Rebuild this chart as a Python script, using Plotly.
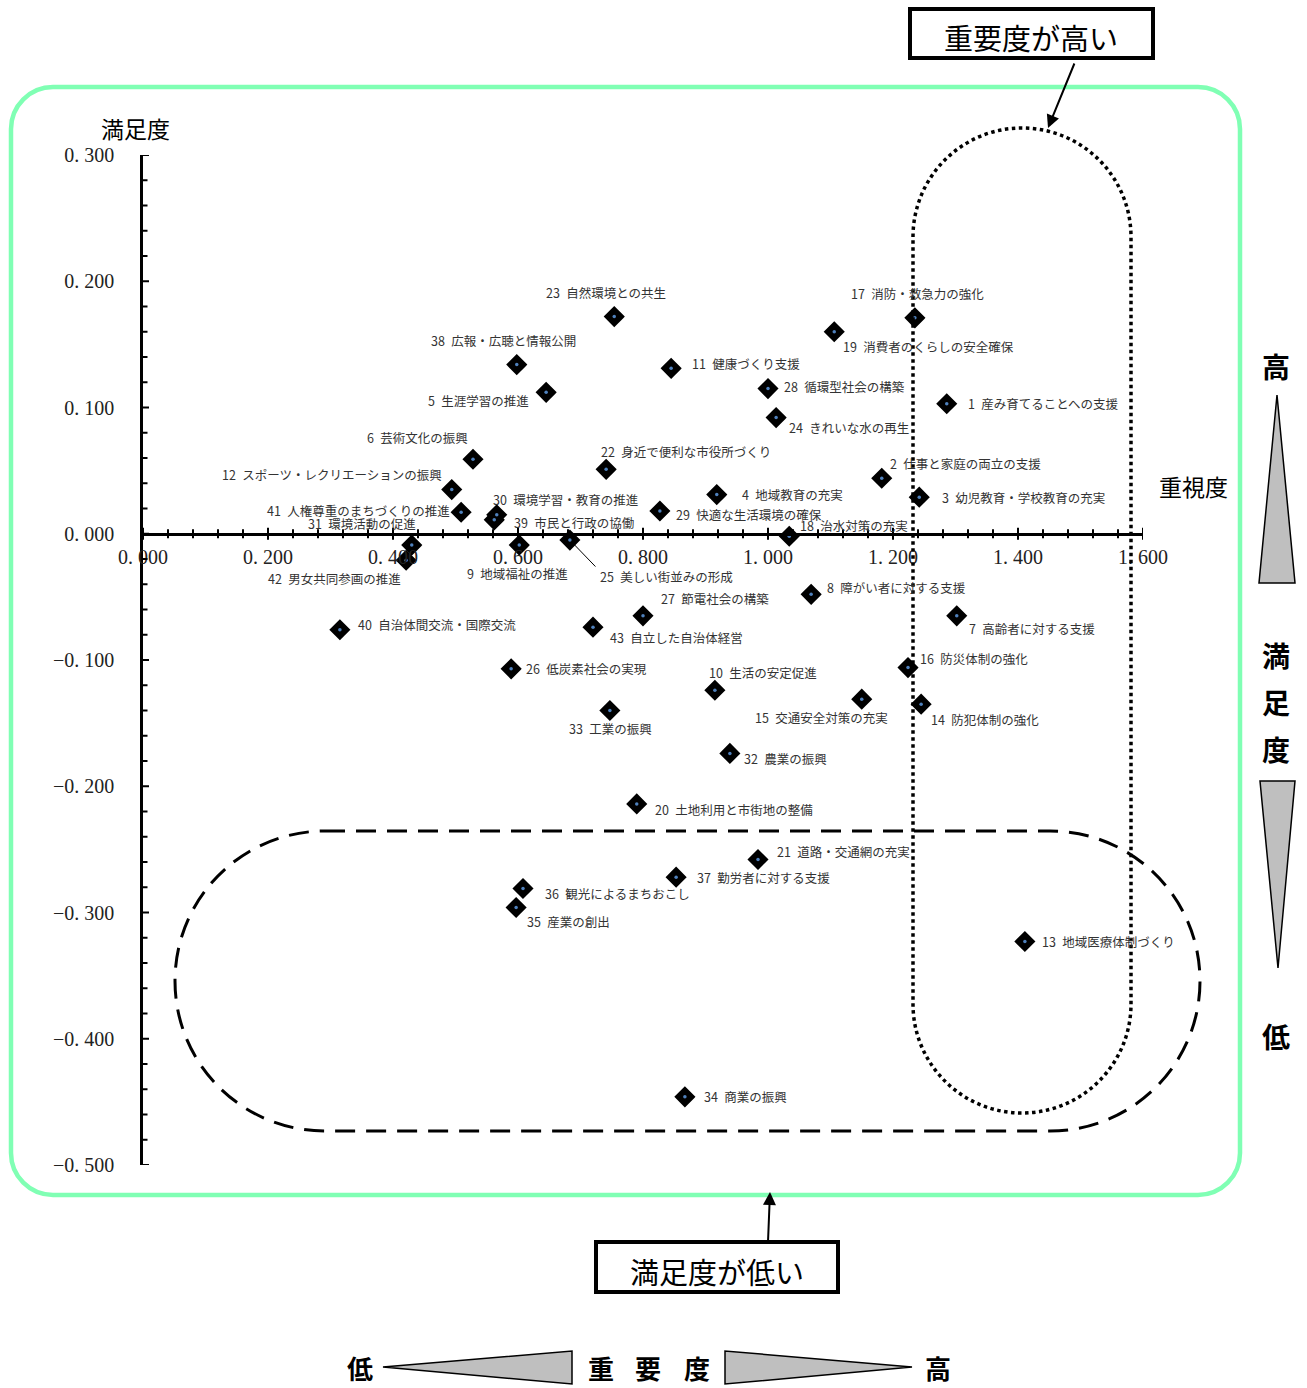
import plotly.graph_objects as go

# ---------------- data ----------------
item_ids = list(range(1, 44))
item_names = [
    "産み育てることへの支援", "仕事と家庭の両立の支援", "幼児教育・学校教育の充実", "地域教育の充実",
    "生涯学習の推進", "芸術文化の振興", "高齢者に対する支援", "障がい者に対する支援", "地域福祉の推進",
    "生活の安定促進", "健康づくり支援", "スポーツ・レクリエーションの振興", "地域医療体制づくり",
    "防犯体制の強化", "交通安全対策の充実", "防災体制の強化", "消防・救急力の強化", "治水対策の充実",
    "消費者のくらしの安全確保", "土地利用と市街地の整備", "道路・交通網の充実", "身近で便利な市役所づくり",
    "自然環境との共生", "きれいな水の再生", "美しい街並みの形成", "低炭素社会の実現", "節電社会の構築",
    "循環型社会の構築", "快適な生活環境の確保", "環境学習・教育の推進", "環境活動の促進", "農業の振興",
    "工業の振興", "商業の振興", "産業の創出", "観光によるまちおこし", "勤労者に対する支援",
    "広報・広聴と情報公開", "市民と行政の協働", "自治体間交流・国際交流", "人権尊重のまちづくりの推進",
    "男女共同参画の推進", "自立した自治体経営",
]
importance = [
    1.286, 1.182, 1.242, 0.918, 0.645, 0.528, 1.302, 1.069, 0.602, 0.915,
    0.845, 0.494, 1.411, 1.245, 1.150, 1.224, 1.235, 1.034, 1.106, 0.790,
    0.984, 0.741, 0.754, 1.013, 0.683, 0.589, 0.800, 1.000, 0.827, 0.566,
    0.430, 0.939, 0.747, 0.867, 0.597, 0.608, 0.853, 0.598, 0.562, 0.315,
    0.509, 0.421, 0.720,
]
satisfaction = [
    0.103, 0.044, 0.029, 0.031, 0.112, 0.059, -0.065, -0.048, -0.009, -0.124,
    0.131, 0.035, -0.323, -0.135, -0.131, -0.106, 0.171, -0.002, 0.160, -0.214,
    -0.258, 0.051, 0.172, 0.092, -0.005, -0.107, -0.065, 0.115, 0.018, 0.015,
    -0.009, -0.174, -0.140, -0.446, -0.296, -0.281, -0.272, 0.134, 0.011, -0.076,
    0.017, -0.021, -0.074,
]
x_tick_vals = [0.0, 0.2, 0.4, 0.6, 0.8, 1.0, 1.2, 1.4, 1.6]
x_tick_text = ["0. 000", "0. 200", "0. 400", "0. 600", "0. 800", "1. 000", "1. 200", "1. 400", "1. 600"]
y_tick_vals = [0.3, 0.2, 0.1, 0.0, -0.1, -0.2, -0.3, -0.4, -0.5]
y_tick_text = ["0. 300", "0. 200", "0. 100", "0. 000", "−0. 100", "−0. 200", "−0. 300", "−0. 400", "−0. 500"]

# label placement (anchor, dx px, dy px downward) -- layout only
label_place = {
    1: ("left", 19, 0), 2: ("left", 6, -15), 3: ("left", 21, 0), 4: ("left", 23, 0),
    5: ("right", -15, 8), 6: ("right", -3, -22), 7: ("left", 10, 13), 8: ("left", 14, -7),
    9: ("center", -2, 28), 10: ("left", -8, -18), 11: ("left", 19, -5), 12: ("right", -8, -15),
    13: ("left", 15, 0), 14: ("left", 8, 15), 15: ("right", 28, 18), 16: ("left", 10, -9),
    17: ("center", 3, -24), 18: ("left", 9, -11), 19: ("left", 7, 15), 20: ("left", 16, 6),
    21: ("left", 17, -8), 22: ("left", -7, -18), 23: ("center", -8, -24), 24: ("left", 11, 10),
    25: ("left", 28, 36), 26: ("left", 13, 0), 27: ("left", 16, -17), 28: ("left", 14, -2),
    29: ("left", 14, 3), 30: ("left", -6, -15), 31: ("right", 6, -22), 32: ("left", 12, 5),
    33: ("center", 1, 18), 34: ("left", 17, 0), 35: ("left", 9, 14), 36: ("left", 20, 5),
    37: ("left", 19, 0), 38: ("center", -13, -24), 39: ("left", 18, 3), 40: ("left", 16, -5),
    41: ("right", -9, -2), 42: ("right", -3, 18), 43: ("left", 15, 10),
}

# ---------------- geometry helpers ----------------
W, H = 1307, 1388
PL, PR, PT, PB = 143, 1143, 155, 1165
JP = "Noto Sans CJK JP"
SERIF = "Liberation Serif"


def fx(xp):
    return (xp - PL) / (PR - PL)


def fy(yp):
    return (PB - yp) / (PB - PT)


K = 0.5523


def path_from(cmds):
    out = []
    for c in cmds:
        op, pts = c[0], c[1:]
        out.append(op + " " + " ".join(f"{fx(a):.5f},{fy(b):.5f}" for a, b in pts))
    return " ".join(out) + " Z"


def round_rect(l, t, r_, b, rad):
    k = K * rad
    return path_from([
        ("M", (l + rad, t)), ("L", (r_ - rad, t)),
        ("C", (r_ - rad + k, t), (r_, t + rad - k), (r_, t + rad)),
        ("L", (r_, b - rad)),
        ("C", (r_, b - rad + k), (r_ - rad + k, b), (r_ - rad, b)),
        ("L", (l + rad, b)),
        ("C", (l + rad - k, b), (l, b - rad + k), (l, b - rad)),
        ("L", (l, t + rad)),
        ("C", (l, t + rad - k), (l + rad - k, t), (l + rad, t)),
    ])


def poly(points):
    cmds = [("M", points[0])] + [("L", p) for p in points[1:]]
    return path_from(cmds)


fig = go.Figure()

# markers
fig.add_trace(go.Scatter(
    x=importance, y=satisfaction, mode="markers",
    marker=dict(symbol="diamond", size=13, color="black", line=dict(color="black", width=3)),
    hoverinfo="skip", showlegend=False, cliponaxis=False,
))
fig.add_trace(go.Scatter(
    x=importance, y=satisfaction, mode="markers",
    marker=dict(symbol="circle", size=3.5, color="#4F81BD"),
    hoverinfo="skip", showlegend=False, cliponaxis=False,
))

shapes = []
annotations = []

# crossing tick marks
for i in range(41):
    v = -0.5 + i * 0.02
    ln = 6 if i % 5 == 0 else 4.5
    shapes.append(dict(type="line", xref="x", yref="y", xsizemode="pixel", xanchor=0,
                       x0=-ln, x1=ln, y0=v, y1=v, line=dict(color="black", width=2)))
for i in range(41):
    u = i * 0.04
    ln = 6 if i % 5 == 0 else 4.5
    shapes.append(dict(type="line", xref="x", yref="y", ysizemode="pixel", yanchor=0,
                       y0=-ln, y1=ln, x0=u, x1=u, line=dict(color="black", width=2)))

# green rounded frame
shapes.append(dict(type="path", xref="paper", yref="paper", path=round_rect(11, 87, 1240, 1195, 42),
                   line=dict(color="#80FFB4", width=4.5), layer="below"))

# dotted vertical stadium (high importance)
cx, r0, y1, y2 = 1022, 109, 237, 1004
k = K * r0
shapes.append(dict(type="path", xref="paper", yref="paper", path=path_from([
    ("M", (cx - r0, y1)),
    ("C", (cx - r0, y1 - k), (cx - k, y1 - r0), (cx, y1 - r0)),
    ("C", (cx + k, y1 - r0), (cx + r0, y1 - k), (cx + r0, y1)),
    ("L", (cx + r0, y2)),
    ("C", (cx + r0, y2 + k), (cx + k, y2 + r0), (cx, y2 + r0)),
    ("C", (cx - k, y2 + r0), (cx - r0, y2 + k), (cx - r0, y2)),
]), line=dict(color="black", width=3.5, dash="3.5px,3.5px")))

# dashed horizontal stadium (low satisfaction)
cy, r1, x1, x2 = 981, 150, 325, 1050
k = K * r1
shapes.append(dict(type="path", xref="paper", yref="paper", path=path_from([
    ("M", (x1, cy - r1)), ("L", (x2, cy - r1)),
    ("C", (x2 + k, cy - r1), (x2 + r1, cy - k), (x2 + r1, cy)),
    ("C", (x2 + r1, cy + k), (x2 + k, cy + r1), (x2, cy + r1)),
    ("L", (x1, cy + r1)),
    ("C", (x1 - k, cy + r1), (x1 - r1, cy + k), (x1 - r1, cy)),
    ("C", (x1 - r1, cy - k), (x1 - k, cy - r1), (x1, cy - r1)),
]), line=dict(color="black", width=3, dash="20px,11px")))

# callout boxes
for (l, t, r_, b) in [(910, 9, 1153, 58), (596, 1242, 838, 1292)]:
    shapes.append(dict(type="rect", xref="paper", yref="paper", x0=fx(l), x1=fx(r_), y0=fy(b), y1=fy(t),
                       line=dict(color="black", width=4), fillcolor="white"))

# gray triangles
for tri in [
    [(1277, 395), (1295, 583), (1259, 583)],
    [(1260, 781), (1295, 781), (1278, 968)],
    [(383, 1367), (572, 1351), (572, 1384)],
    [(725, 1351), (725, 1384), (912, 1367)],
]:
    shapes.append(dict(type="path", xref="paper", yref="paper", path=poly(tri),
                       fillcolor="#BFBFBF", line=dict(color="black", width=1.5)))

# point labels
for i, name, xv, yv in zip(item_ids, item_names, importance, satisfaction):
    anc, dx, dy = label_place[i]
    annotations.append(dict(x=xv, y=yv, xref="x", yref="y", text=f"{i}\u2002{name}", showarrow=False,
                            xanchor=anc, yanchor="middle", xshift=dx, yshift=-dy,
                            font=dict(family=JP, size=12.5, color="#333333")))
# leader line for item 25
i25 = item_ids.index(25)
annotations.append(dict(x=importance[i25], y=satisfaction[i25], xref="x", yref="y", text="",
                        showarrow=True, arrowhead=0, arrowwidth=1, arrowcolor="black",
                        ax=27, ay=28, standoff=5))


def text_px(xp, yp, txt, size, weight=400, color="black"):
    annotations.append(dict(x=fx(xp), y=fy(yp), xref="paper", yref="paper", text=txt, showarrow=False,
                            xanchor="center", yanchor="middle",
                            font=dict(family=JP, size=size, color=color, weight=weight)))


text_px(135, 128, "満足度", 23)
text_px(1193, 486, "重視度", 23)
text_px(1031, 37, "重要度が高い", 29)
text_px(717, 1271, "満足度が低い", 29)
for ch, yp in [("高", 366), ("満", 655), ("足", 702), ("度", 749), ("低", 1036)]:
    text_px(1276, yp, ch, 28, weight=700)
for ch, xp in [("低", 360), ("重", 601), ("要", 648), ("度", 697), ("高", 938)]:
    text_px(xp, 1367, ch, 26, weight=700)

# callout arrows
for (hx, hy, tx, ty) in [(1048, 128, 1075, 62), (770, 1192, 768, 1242)]:
    annotations.append(dict(x=fx(hx), y=fy(hy), xref="paper", yref="paper", text="", showarrow=True,
                            arrowhead=2, arrowsize=1.3, arrowwidth=2, arrowcolor="black",
                            ax=tx - hx, ay=ty - hy))

fig.update_layout(
    width=W, height=H,
    margin=dict(l=PL, r=W - PR, t=PT, b=H - PB, pad=0),
    paper_bgcolor="white", plot_bgcolor="rgba(0,0,0,0)",
    showlegend=False,
    xaxis=dict(range=[0, 1.6], showgrid=False, zeroline=False, showline=True, linecolor="black",
               linewidth=2.5, anchor="free", position=0.625, tickmode="array",
               tickvals=x_tick_vals, ticktext=x_tick_text, ticks="", ticklabelstandoff=4,
               tickfont=dict(family=SERIF, size=20, color="#222222")),
    yaxis=dict(range=[-0.5, 0.3], showgrid=False, zeroline=False, showline=True, linecolor="black",
               linewidth=2.5, tickmode="array", tickvals=y_tick_vals, ticktext=y_tick_text,
               ticks="", ticklabelstandoff=22, tickfont=dict(family=SERIF, size=20, color="#222222")),
    shapes=shapes,
    annotations=annotations,
)

fig.write_html("out.html", post_script="document.body.style.margin='0px';",
               config={"displayModeBar": False})
